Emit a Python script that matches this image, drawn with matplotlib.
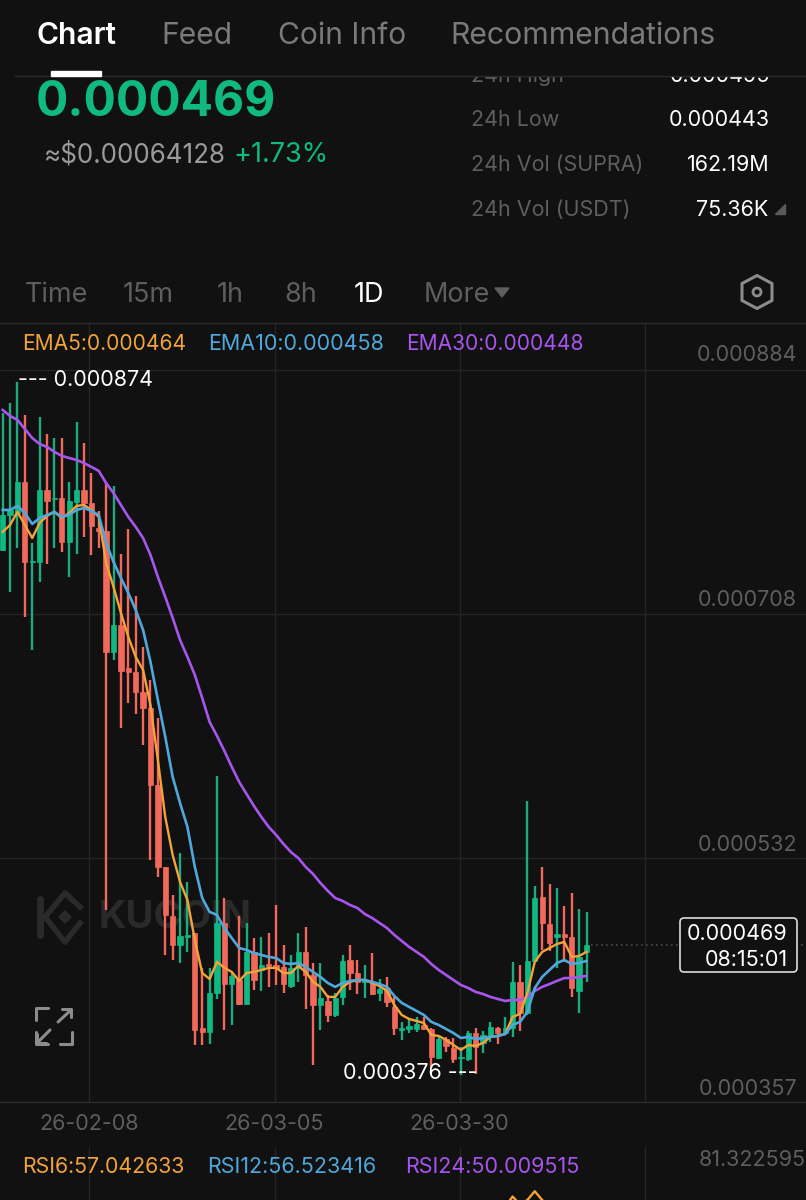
import matplotlib
matplotlib.use('Agg')
import matplotlib.pyplot as plt
from matplotlib.patches import FancyBboxPatch, Polygon, Circle, Rectangle

# prices in millionths, 0.000469 -> 469
opens = [754.1,779.3,780.7,803.1,745.5,745.5,797.3,790.8,791.5,759.9,788.7,797.3,788.0,769.9,767.8,680.7,700.1,669.1,666.3,651.9,
         640.3,584.9,525.9,490.6,469.7,475.5,478.3,410.0,407.1,435.1,485.5,441.6,444.5,427.2,464.7,451.7,456.0,455.3,453.9,440.2,
         453.2,464.7,448.1,426.5,429.4,419.3,432.3,458.9,449.5,443.1,443.1,435.1,438.7,425.1,408.5,409.2,409.2,412.1,409.2,388.3,
         402.0,395.5,388.3,387.6,406.3,399.1,404.9,410.0,406.3,410.0,443.1,420.7,458.2,504.3,484.8,475.5,477.6,475.5,436.6,464.7]
highs = [852.7,859.9,875.1,851.3,759.1,849.9,837.6,834.7,834.7,803.1,846.3,831.1,809.5,782.2,803.1,800.2,751.2,769.2,721.0,684.3,
         660.5,633.1,525.9,505.7,536.0,515.1,478.3,453.1,453.1,591.4,503.5,449.5,490.6,485.5,474.7,475.5,478.3,498.5,469.7,462.5,
         478.3,482.7,456.8,456.8,433.7,435.1,462.5,469.7,458.9,455.3,464.0,445.2,446.7,432.3,414.3,417.2,417.9,417.9,410.0,403.5,
         403.5,402.7,396.3,407.8,410.0,407.8,414.3,410.7,417.9,457.5,455.3,573.4,512.2,525.9,513.6,510.7,497.8,507.1,495.6,493.5]
lows = [753.0,723.9,755.5,705.9,682.1,731.1,744.0,755.5,752.7,734.7,751.2,763.5,750.5,755.5,494.9,674.9,626.0,643.9,636.0,613.7,
        530.9,518.7,462.5,458.9,456.8,464.7,397.7,397.7,398.4,430.8,408.5,412.1,426.5,426.5,437.3,436.6,439.5,440.9,435.1,438.7,
        443.1,423.6,383.3,408.5,414.3,417.9,426.5,437.3,434.4,431.5,433.7,429.4,425.1,404.9,401.3,406.3,407.1,408.5,381.1,387.6,
        392.7,384.8,376.1,386.2,376.8,391.9,399.9,398.4,404.9,403.5,407.8,419.3,457.5,466.1,465.4,453.2,457.5,432.3,420.7,443.1]
closes = [779.3,782.9,803.1,745.5,746.2,797.3,789.4,791.5,759.9,789.4,797.3,788.0,771.4,767.8,680.7,700.1,667.0,666.3,651.9,640.3,
          584.9,525.9,491.3,469.7,476.2,476.9,408.5,407.1,435.1,485.5,441.6,447.4,427.2,464.7,444.5,455.3,454.6,453.2,441.6,453.2,
          464.7,448.1,426.5,431.5,419.3,431.5,458.2,449.5,443.1,444.5,434.4,438.0,428.7,410.0,410.0,411.4,412.8,409.2,389.1,402.0,
          397.0,387.6,389.1,406.3,396.3,404.9,410.7,406.3,410.0,443.1,420.7,458.2,503.5,485.5,471.2,477.6,475.5,438.7,461.1,469.7]

ema5 = [767.1,772.1,781.5,772.1,762.7,773.5,778.6,781.5,777.1,780.7,785.8,786.5,782.9,777.9,744.7,727.5,708.8,691.5,677.1,667.7,
        642.5,602.9,561.9,534.5,515.1,502.1,473.3,449.5,445.2,457.5,453.2,450.3,443.8,449.5,450.3,451.7,453.2,453.2,449.5,449.5,
        454.6,450.3,443.1,439.5,432.3,432.3,439.5,443.1,444.5,444.5,442.3,440.2,436.6,426.5,419.3,416.4,415.0,413.5,404.9,404.2,
        401.3,397.7,394.1,397.7,397.0,399.1,403.5,404.2,405.6,417.9,420.0,435.1,457.5,464.7,467.5,470.4,471.9,461.1,461.8,464.7]
ema10 = [782.9,782.9,785.8,780.7,772.8,777.1,779.3,781.5,777.9,779.3,782.9,784.3,782.2,779.3,759.1,745.5,733.9,723.1,710.9,696.5,
         673.5,646.1,619.5,590.7,571.9,554.7,525.9,503.5,493.5,491.3,481.9,474.7,467.5,466.1,463.9,462.5,461.1,460.3,456.7,456.0,
         456.7,453.9,450.3,446.7,442.3,439.5,442.3,443.8,444.5,444.5,443.1,441.6,439.5,433.0,428.0,425.1,422.2,419.3,414.3,412.1,
         409.2,406.3,402.7,403.5,402.0,402.7,403.5,404.2,405.6,412.1,414.3,421.5,438.7,446.7,451.7,456.7,458.9,456.0,456.7,458.2]
ema30 = [854.9,850.6,847.7,841.2,834.7,830.4,828.3,824.7,821.8,820.3,818.9,816.7,813.9,811.0,802.3,795.1,786.5,777.9,770.7,762.7,
         750.5,734.7,720.3,705.2,689.3,677.1,664.1,647.5,630.3,620.2,609.4,597.9,587.1,578.4,569.8,561.9,554.7,548.9,542.4,536.6,
         532.3,525.9,520.8,514.3,508.6,503.5,501.4,498.5,496.3,492.0,489.1,485.5,481.9,476.9,472.6,468.3,464.7,461.1,456.0,451.7,
         448.1,444.5,440.9,438.7,435.9,434.4,432.3,430.8,429.4,430.1,430.1,432.3,436.6,439.5,441.6,443.8,445.9,445.9,446.7,447.4]

# only the top of the RSI pane is on screen
rsi6_days = [68,69,70,71,72,73,74]
rsi6 = [66.0,70.5,67.0,69.0,72.8,69.0,66.0]

price_ticks = [357,532.3,708,884]
price_labels = ['0.000357','0.000532','0.000708','0.000884']
date_ticks = [11.72,36.8,61.85,86.9]
date_labels = ['26-02-08','26-03-05','26-03-30']

BG = '#111112'
GRID = '#252526'
GREEN = '#10B981'
WICKG = '#1FA97F'
RED = '#F0695A'
ORANGE = '#F2A33A'
BLUE = '#4FA8DC'
PURPLE = '#A855EE'
GRAY = '#5E5E5E'
FONT = 'Inter'

W, H = 806, 1200
plt.rcParams['font.family'] = [FONT, 'DejaVu Sans']
fig = plt.figure(figsize=(W/100, H/100), dpi=100, facecolor=BG)


def box(left, top, right, bottom):
    return [left/W, 1-bottom/H, (right-left)/W, (bottom-top)/H]


# x axis: candle index, y axis: price
ax = fig.add_axes(box(0, 323, W, 1101.5), facecolor=BG)
ax.set_xlim(-0.361, 108.7)
ax.set_ylim(357, 917.5)
ax.set_xticks(date_ticks)
ax.set_yticks(price_ticks)
ax.grid(True, color=GRID, lw=1)
ax.tick_params(length=0, labelbottom=False, labelleft=False)
ax.set_axisbelow(True)
for s in ax.spines.values():
    s.set_visible(False)

days = list(range(len(opens)))

# watermark sits under the candles
ax.text(12.9, 489, 'KUCOIN', color='#2A2A2B', fontsize=27.5, fontweight='bold',
        va='center', ha='left', zorder=1)

for i in days:
    up = closes[i] >= opens[i]
    ax.vlines(i, lows[i], highs[i], color=WICKG if up else RED, lw=1.7, zorder=2)
    ax.bar(i, abs(closes[i]-opens[i]), bottom=min(opens[i], closes[i]), width=0.72,
           color=GREEN if up else RED, edgecolor=GREEN if up else RED, lw=0.5, zorder=3)

ax.plot(days, ema30, color=PURPLE, lw=1.9, zorder=4)
ax.plot(days, ema5, color=ORANGE, lw=1.7, zorder=4)
ax.plot(days, ema10, color=BLUE, lw=1.9, zorder=5)
ax.hlines(closes[-1], 79.6, 108.7, color='#4A4A4A', lw=1.2, linestyles=(0, (1, 2)), zorder=2)

# RSI pane
rsi = fig.add_axes(box(0, 1147, W, H), facecolor=BG)
rsi.set_xlim(-0.361, 108.7)
rsi.set_ylim(69, 92)
rsi.set_xticks(date_ticks)
rsi.set_yticks([])
rsi.grid(True, axis='x', color=GRID, lw=1)
rsi.tick_params(length=0, labelbottom=False)
rsi.set_axisbelow(True)
for s in rsi.spines.values():
    s.set_visible(False)
rsi.plot(rsi6_days, rsi6, color=ORANGE, lw=1.7)

# everything around the chart, in screen pixels
ui = fig.add_axes([0, 0, 1, 1])
ui.set_xlim(0, W)
ui.set_ylim(H, 0)
ui.axis('off')
ui.patch.set_alpha(0)


def label(x, y, s, color=GRAY, px=22, weight='normal', ha='left'):
    ui.text(x, y+0.09*px, s, color=color, fontsize=px*0.72, fontweight=weight, ha=ha, va='center', zorder=6)


# logo of the watermark and fullscreen icon
ui.plot([39.5, 39.5], [899, 935], color='#2A2A2B', lw=5, solid_capstyle='round', zorder=0.5)
ui.plot([80, 65, 45, 65, 80], [907, 893, 917, 942, 923], color='#2A2A2B', lw=4, zorder=0.5)
ui.add_patch(Polygon([[65, 911], [71, 917], [65, 923], [59, 917]], color='#2A2A2B', zorder=0.5))

ic = '#8C8C8C'
for xs, ys in [([48, 36, 36], [1008, 1008, 1020]), ([60, 72, 72], [1044, 1044, 1032]),
               ([71, 58], [1010, 1022]), ([71, 71, 62], [1017, 1009, 1009]),
               ([37, 50], [1043, 1030]), ([37, 37, 46], [1034, 1043, 1043]),
               ([36, 36, 48], [1032, 1044, 1044])]:
    ui.plot(xs, ys, color=ic, lw=2.2, solid_capstyle='round')

# header
ui.add_patch(Rectangle((0, 0), W, 75, color=BG, zorder=5))
ui.plot([15, W], [75.5, 75.5], color='#2A2A2B', lw=1, zorder=5.5)
ui.plot([0, W], [322.7, 322.7], color='#2A2A2B', lw=1)
ui.plot([0, W], [1101.7, 1101.7], color='#2A2A2B', lw=1)
ui.add_patch(Rectangle((51, 71), 50, 5, color='white', zorder=7))

label(36, 33, 'Chart', 'white', 30, 600)
label(161, 33, 'Feed', '#7A7A7A', 30)
label(278, 33, 'Coin Info', '#7A7A7A', 30)
label(450, 33, 'Recommendations', '#7A7A7A', 30.2)

label(36, 98, '0.000469', GREEN, 48, 'bold')
label(44, 153, '≈$0.00064128', '#9A9A9A', 26)
label(233, 153, '+1.73%', GREEN, 27)

stats = [(74, '24h High', '0.000495'), (118, '24h Low', '0.000443'),
         (163, '24h Vol (SUPRA)', '162.19M'), (208, '24h Vol (USDT)', '75.36K')]
for y, name, val in stats:
    if y < 75:
        ui.text(471, y+2, name, color=GRAY, fontsize=15.5, va='center', zorder=4)
        ui.text(770, y+2, val, color='white', fontsize=15.5, ha='right', va='center', zorder=4)
    else:
        label(471, y, name, GRAY, 21.5)
        label(768 if 'USDT' in name else 770, y, val, 'white', 21.5, ha='right')
ui.add_patch(Polygon([[775, 214], [785, 214], [785, 204]], color='#5A5A5A'))

for x, s, c in [(25, 'Time', GRAY), (123, '15m', GRAY), (217, '1h', GRAY), (284, '8h', GRAY),
                (354, '1D', 'white'), (424, 'More', GRAY)]:
    label(x, 293, s, c, 27)
ui.add_patch(Polygon([[495, 288], [509, 288], [502, 297]], color=GRAY))
ui.add_patch(Polygon([[757, 275.5], [772, 283.5], [772, 300.5], [757, 308.5], [742, 300.5], [742, 283.5]],
                     closed=True, fill=False, ec=ic, lw=2.2))
ui.add_patch(Circle((757, 292), 4, fill=False, ec=ic, lw=2))

# legends
label(22, 342, 'EMA5:0.000464', ORANGE, 21)
label(208, 342, 'EMA10:0.000458', BLUE, 21.5)
label(406, 342, 'EMA30:0.000448', PURPLE, 21)
label(22, 1165, 'RSI6:57.042633', ORANGE, 21.3)
label(207, 1165, 'RSI12:56.523416', BLUE, 21.5)
label(405, 1165, 'RSI24:50.009515', PURPLE, 21.5)

for y, s in zip([1087, 843, 598, 353], price_labels):
    label(797, y, s, GRAY, 21.5, ha='right')
label(806, 1158, '81.322595', GRAY, 21.5, ha='right')
for x, s in zip([89.5, 274.5, 459.5], date_labels):
    label(x, 1122, s, GRAY, 21.5, ha='center')

label(18, 378, '--- 0.000874', 'white', 21.5)
label(477, 1071, '0.000376 ---', 'white', 21.5, ha='right')

# current price box
ui.add_patch(FancyBboxPatch((683, 921), 111, 48, boxstyle='round,pad=3,rounding_size=4',
                            fc=BG, ec='#DDDDDD', lw=1.2, zorder=6))
ui.text(788, 933.5, '0.000469', color='white', fontsize=15.5, ha='right', va='center', zorder=7)
ui.text(788, 959.5, '08:15:01', color='white', fontsize=15.5, ha='right', va='center', zorder=7)

fig.savefig('out.png', dpi=100, facecolor=BG)
